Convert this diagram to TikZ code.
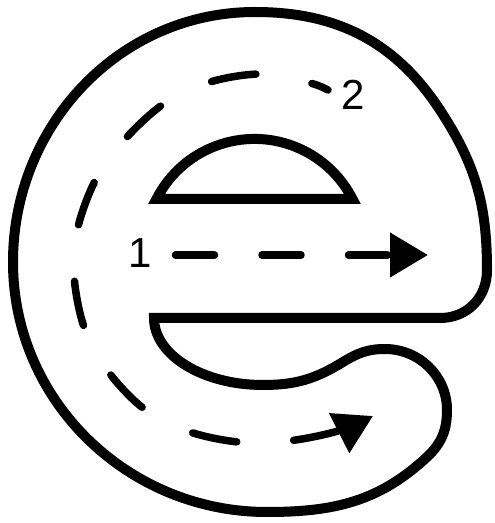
\documentclass[tikz,border=0pt]{standalone}
\usepackage{fontspec}
\setmainfont{Liberation Sans}
\usetikzlibrary{arrows.meta}
\begin{document}
\begin{tikzpicture}[x=1pt,y=1pt,
  outline/.style={line width=10pt, line join=miter},
  dashpath/.style={line width=7.5pt, line cap=round},
  lbl/.style={font=\fontsize{42}{42}\selectfont, inner sep=0pt},
  bigtip/.style={-{Triangle[length=38pt,width=43pt]}}]
\useasboundingbox (0,0) rectangle (495,523);
% outer letter outline
\draw[outline] (154,205) -- (440,205) .. controls (467,205) and (487,225) .. (487,253)
  to[out=90,in=-56.8] (440,413)
  to[out=123.2,in=0] (255,511)
  to[out=180,in=90] (13,261)
  to[out=270,in=180] (267,11)
  to[out=0,in=223] (427,66)
  to[out=43,in=270] (447,113)
  to[out=90,in=0] (385,174)
  to[out=180,in=31.5] (343,161)
  to[out=211.5,in=0] (263,138)
  .. controls (202.8,138) and (154,168) .. cycle;
% inner dome
\draw[outline] (156.5,324) arc[start angle=153, end angle=27, radius=110] -- cycle;
% labels
\node[lbl] (n1) at (140.5,270) {1};
\node[lbl] (n2) at (353,428) {2};
% arrow 1
\coordinate (s1) at (175.5,268);
\coordinate (e1) at (428,268);
\draw[dashpath, dash pattern=on 39pt off 47.5pt, bigtip] (s1) -- (e1);
% arrow 2
\draw[dashpath, dash pattern=on 45pt off 57pt, dash phase=27.6pt, bigtip]
  plot[smooth, tension=0.55] coordinates {(328,433) (310,440) (262,449) (210,441) (165,420) (127,386) (97,346) (78,296) (74,248) (84,196) (107,153) (143,115) (187,92) (238,81) (288,82) (338,92) (373,107)};
\end{tikzpicture}
\end{document}
